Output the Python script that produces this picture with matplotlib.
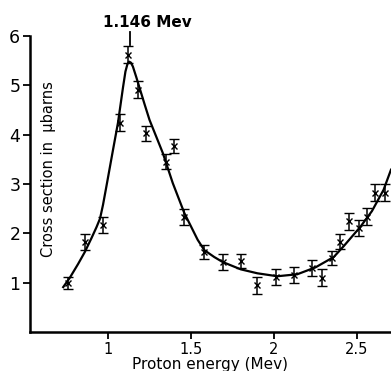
import matplotlib.pyplot as plt

# measured points (Mev, microbarns)
energia = [0.756, 0.863, 0.97, 1.07, 1.12, 1.18, 1.23, 1.35, 1.40, 1.46,
           1.58, 1.69, 1.80, 1.90, 2.01, 2.12, 2.23, 2.29, 2.35, 2.40,
           2.45, 2.51, 2.56, 2.61, 2.67]
secao = [0.99, 1.83, 2.17, 4.24, 5.62, 4.91, 4.03, 3.45, 3.77, 2.33,
         1.62, 1.42, 1.44, 0.95, 1.12, 1.16, 1.30, 1.10, 1.50, 1.83,
         2.24, 2.11, 2.34, 2.82, 2.82]
erro = [0.12, 0.16, 0.17, 0.17, 0.17, 0.17, 0.15, 0.15, 0.15, 0.17,
        0.15, 0.17, 0.15, 0.17, 0.16, 0.16, 0.16, 0.17, 0.15, 0.15,
        0.17, 0.17, 0.17, 0.17, 0.17]

# fitted curve
curva_x = [0.73, 0.77, 0.82, 0.86, 0.90, 0.93, 0.952, 0.97, 0.994, 1.03,
           1.06, 1.09, 1.105, 1.117, 1.127, 1.138, 1.15, 1.17, 1.19, 1.22,
           1.25, 1.33, 1.39, 1.46, 1.54, 1.58, 1.64, 1.69, 1.80, 1.90,
           2.02, 2.14, 2.25, 2.36, 2.42, 2.52, 2.59, 2.66, 2.705]
curva_y = [0.91, 1.10, 1.38, 1.62, 1.90, 2.12, 2.30, 2.58, 3.02, 3.69,
           4.24, 4.95, 5.28, 5.43, 5.48, 5.46, 5.38, 5.17, 4.95, 4.62,
           4.30, 3.63, 3.02, 2.41, 1.87, 1.66, 1.52, 1.42, 1.27, 1.19,
           1.13, 1.17, 1.31, 1.52, 1.74, 2.13, 2.45, 2.88, 3.29]

fig = plt.figure(figsize=(3.91, 3.71), dpi=100)
ax = fig.add_axes([30/391, 1-332/371, 1-30/391, (332-36)/371])

ax.plot(curva_x, curva_y, color='black', lw=1.6, clip_on=False)
ax.errorbar(energia, secao, yerr=erro, fmt='x', color='black', ms=4,
            mew=1.0, elinewidth=1.1, capsize=3.5, capthick=1.1)

ax.set_xlim(0.53, 2.705)
ax.set_ylim(0, 6)
ax.spines['top'].set_visible(False)
ax.spines['right'].set_visible(False)
ax.spines['left'].set_linewidth(1.8)
ax.spines['bottom'].set_linewidth(1.8)

ax.set_xticks([1, 1.5, 2, 2.5])
ax.set_xticklabels(['1', '1.5', '2', '2.5'])
ax.set_yticks([1, 2, 3, 4, 5, 6])
ax.tick_params(axis='x', labelsize=10.5, length=5, width=1.3, pad=2)
ax.tick_params(axis='y', labelsize=12.5, length=5, width=1.3, pad=2)

ax.set_xlabel('Proton energy (Mev)', fontsize=11, labelpad=0)
ax.set_ylabel('Cross section in  μbarns', fontsize=10.5)
ax.yaxis.set_label_coords(0.072, 0.55)

ax.text(1.235, 6.13, '1.146 Mev', ha='center', va='bottom', fontsize=11,
        fontweight='semibold', clip_on=False)
ax.plot([1.13, 1.13], [5.82, 6.08], color='black', lw=1.3, clip_on=False)

plt.savefig('out.png', dpi=100)
